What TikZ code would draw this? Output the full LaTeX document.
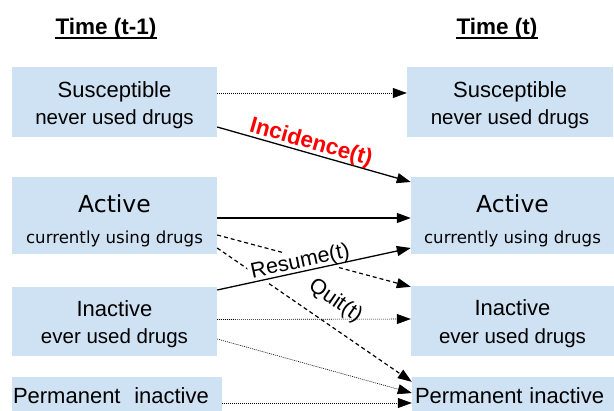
\documentclass[tikz,border=0pt]{standalone}
\usepackage{fontspec}
\setmainfont{Liberation Sans}
\newfontfamily\dejavu{DejaVu Sans}
\usetikzlibrary{arrows.meta}

\definecolor{boxblue}{HTML}{CFE2F3}
\definecolor{incred}{HTML}{FF0000}

% 状态名（第一行）用大字, 带一个顶部支撑
\newcommand{\statename}[1]{{\fontsize{22}{25}\selectfont\rule{0pt}{21.6pt}#1}}

\tikzset{
    state/.style={fill=boxblue, inner sep=0pt, align=center, font=\fontsize{20.5}{25}\selectfont},
    actstate/.style={state, font=\dejavu\fontsize{16.6}{20}\selectfont},
    heading/.style={font=\fontsize{22.5}{26}\selectfont\bfseries, inner sep=0pt, anchor=base},
    solidarr/.style={-{Triangle[length=14pt,width=10pt]}, line width=1.3pt},
    dotarr/.style={-{Triangle[length=14pt,width=10pt]}, line width=0.6pt, dash pattern=on 1pt off 1pt},
    dasharr/.style={-{Triangle[length=14pt,width=10pt]}, line width=1.2pt, dash pattern=on 4pt off 3pt},
    lbl/.style={sloped, inner sep=0pt, font=\fontsize{21.5}{24}\selectfont}
}

\begin{document}
\begin{tikzpicture}[x=1pt, y=-1pt]
    \useasboundingbox (0,0) rectangle (614,411);

    % 标题
    \node[heading] (tprev) at (106,34.5) {Time (t-1)};
    \node[heading] (tcur) at (497,34.5) {Time (t)};
    \draw[line width=1.3pt] ([yshift=-3.5pt]tprev.base west) -- ([yshift=-3.5pt]tprev.base east);
    \draw[line width=1.3pt] ([yshift=-3.5pt]tcur.base west) -- ([yshift=-3.5pt]tcur.base east);

    % 左列: 时刻 t-1
    \node[state, minimum width=205pt, minimum height=70pt] (susprev) at (114.5,102) {\statename{Susceptible}\\[2pt]never used drugs};
    \node[actstate, minimum width=205pt, minimum height=77pt] (actprev) at (114.5,215.5) {{\fontsize{23.5}{26}\selectfont\rule{0pt}{29pt}Active}\\[11pt]currently using drugs};
    \node[state, minimum width=205pt, minimum height=69pt] (inaprev) at (114.5,321.5) {\statename{Inactive}\\[2.5pt]ever used drugs};
    \node[state, minimum width=210pt, minimum height=38pt, inner xsep=1pt, text width=208pt, align=left] (perprev) at (117,396) {{\fontsize{22}{25}\selectfont Permanent\ \ inactive}};

    % 右列: 时刻 t
    \node[state, minimum width=206pt, minimum height=70pt] (suscur) at (510,102) {\statename{Susceptible}\\[2pt]never used drugs};
    \node[actstate, minimum width=203pt, minimum height=77pt] (actcur) at (512.5,215.5) {{\fontsize{23.5}{26}\selectfont\rule{0pt}{29pt}Active}\\[11pt]currently using drugs};
    \node[state, minimum width=203pt, minimum height=70pt] (inacur) at (512.5,321) {\statename{Inactive}\\[2.5pt]ever used drugs};
    \node[state, minimum width=202pt, minimum height=38pt, inner xsep=3pt, text width=196pt, align=left] (percur) at (513,396) {{\fontsize{22}{25}\selectfont Permanent inactive}};

    % 状态不变
    \draw[dotarr] ([yshift=9pt]susprev.east) -- ([yshift=9pt]suscur.west);
    \draw[solidarr] ([yshift=-2.5pt]actprev.east) -- ([yshift=-2.5pt]actcur.west);
    \draw[dotarr] ([yshift=2pt]inaprev.east) -- ([yshift=2pt]inacur.west);
    \draw[dotarr] ([yshift=-7pt]perprev.east) -- ([yshift=-7pt]percur.west);

    % 状态转移
    \draw[solidarr] ([yshift=-25pt]susprev.east) -- node[lbl, pos=0.47, above=-1pt, text=incred, font=\fontsize{22.5}{25}\selectfont\bfseries] {Incidence(t)} ([yshift=33.5pt]actcur.west);
    \draw[dasharr] ([yshift=-19.5pt]actprev.east) -- ([yshift=-1pt]inacur.north west);
    \draw[dasharr] ([yshift=-32.5pt]actprev.east) -- node[lbl, pos=0.54, above=12.5pt] {Quit(t)} ([yshift=-5pt]percur.north west);
    \draw[dotarr] ([yshift=-17.5pt]inaprev.east) -- ([yshift=3pt]percur.west);
    % Resume 标签盖住虚线, 但在实线下面
    \draw[solidarr] ([yshift=31.5pt]inaprev.east) -- node[lbl, behind path, fill=white, inner sep=3pt, pos=0.44, above=-4pt] {Resume(t)} ([yshift=-32.5pt]actcur.west);
\end{tikzpicture}
\end{document}
